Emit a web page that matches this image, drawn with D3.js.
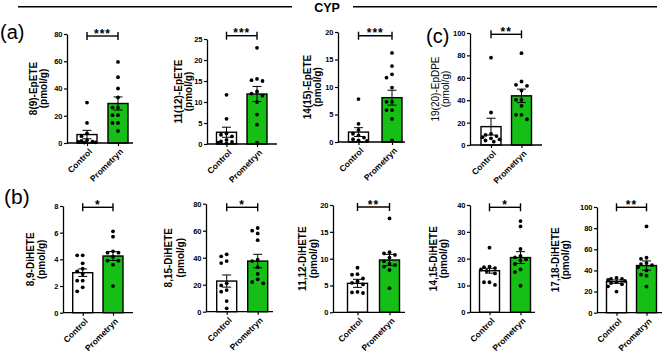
<!DOCTYPE html>
<html>
<head>
<meta charset="utf-8">
<script src="https://cdn.jsdelivr.net/npm/d3@7"></script>
<style>
  body { margin: 0; background: #fff; }
  svg { display: block; font-family: "Liberation Sans", Arial, sans-serif; }
  .yax .tick text { font-size: 7.5px; font-weight: bold; }
  .xax .tick text { font-size: 8.5px; font-weight: bold; }
</style>
</head>
<body>
<svg id="chart" width="669" height="355"></svg>
<script>
// values
var analytes = ["8(9)-EpETE", "11(12)-EpETE", "14(15)-EpETE", "19(20)-EpDPE",
  "8,9-DiHETE", "8,15-DiHETE", "11,12-DiHETE", "14,15-DiHETE", "17,18-DiHETE"];
var groups = ["Control", "Prometryn"];
var yMax = [80, 25, 20, 100, 8, 80, 20, 40, 100];
var yStep = [20, 5, 5, 20, 2, 20, 5, 10, 20];
var controlMean = [6.2, 2.8, 1.8, 16.4, 3.0, 22.7, 5.4, 15.5, 29.4];
var controlSem = [3.1, 1.2, 0.8, 7.5, 0.28, 4.5, 0.75, 0.9, 1.6];
var prometrynMean = [29, 11.9, 8.06, 43.9, 4.25, 37.5, 9.75, 20.4, 44.6];
var prometrynSem = [4.8, 1.8, 1.35, 6.0, 0.33, 5.0, 1.05, 2.2, 4.4];
var controlPoints = [
  [29.7, 14.7, 7, 5, 2, 1.5, 1, 0.8, 0.5, 0.3],
  [11.7, 6.0, 2.5, 2.2, 1.8, 1.0, 0.6, 0.5, 0.3, 0.2],
  [7.8, 3.3, 2.2, 1.5, 1.2, 0.8, 0.5, 0.3, 0.2],
  [78, 29, 10, 9, 8, 7, 6, 5, 4, 3],
  [4.3, 4.3, 3.7, 3.3, 3.1, 2.9, 2.4, 2.4, 1.9, 1.6],
  [42.5, 41, 37.5, 36, 21, 19.5, 16, 14.8, 7.9, 2.5],
  [8.3, 7.1, 7.0, 6.3, 5.8, 5.5, 5.2, 3.8, 3.7, 3.6],
  [24.1, 17, 16.8, 16.5, 16, 15.4, 14.5, 11.2, 11.2, 10.2],
  [33, 32, 32, 31, 30, 29, 28, 27, 25, 20]
];
var prometrynPoints = [
  [59.5, 48.3, 40, 33.4, 26, 26, 20.4, 20.4, 14.7, 14.7, 8.8],
  [22.9, 15.5, 15.2, 15.0, 12.5, 12.0, 11.5, 10.0, 7.0, 4.6, 0.3],
  [16.2, 13.8, 12.3, 11.7, 9.9, 7.3, 7.3, 5.8, 5.8, 4.2, 0.3],
  [82, 56.7, 53.7, 52.8, 48.6, 40.3, 40.3, 35, 26.9, 26.9, 23],
  [6.1, 5.7, 4.6, 4.5, 4.5, 4.2, 3.9, 3.9, 3.6, 2.0],
  [62, 60, 58, 53, 38.5, 37.5, 33, 28, 24, 22, 21],
  [17.5, 11.2, 11.0, 10.7, 10.2, 9.5, 9.0, 8.8, 8.5, 7.9, 4.5],
  [34, 32, 23.6, 21, 20.5, 19.7, 19.3, 18, 16, 15, 9.9],
  [81.6, 52, 51, 47, 46, 45, 43, 40, 36, 35, 24.7]
];
var stars = ["***", "***", "***", "**", "*", "*", "**", "*", "**"];

// where each little graph sits (axis x, top px, bottom px, bar centres, x-axis end, label offsets)
var layout = [
  {ax: 67, top: 34, bot: 143, c: [87, 118], end: 133, l1: 34, l2: 24, sig: 36},
  {ax: 207, top: 39, bot: 144, c: [226.5, 257], end: 277, l1: 29, l2: 19, sig: 35.7},
  {ax: 338, top: 32, bot: 142, c: [358.5, 392], end: 405, l1: 31, l2: 21, sig: 35.7},
  {ax: 470, top: 33, bot: 145, c: [491, 521.5], end: 542, l1: 35, l2: 25, sig: 34.3, light: true},
  {ax: 63, top: 206, bot: 312.7, c: [82.7, 113], end: 133, l1: 33, l2: 21.5, sig: 207.3},
  {ax: 206, top: 203.7, bot: 311.7, c: [226.7, 257.7], end: 273, l1: 38, l2: 26, sig: 207.3},
  {ax: 333, top: 205, bot: 312.3, c: [357.5, 389.5], end: 405, l1: 31, l2: 20, sig: 207},
  {ax: 470, top: 205, bot: 312.3, c: [489.5, 520.5], end: 535, l1: 37, l2: 27, sig: 207.3},
  {ax: 597, top: 207, bot: 312.7, c: [616.5, 646.5], end: 662, l1: 42, l2: 32, sig: 207.3}
];

var svg = d3.select("#chart");
var green = "#15bf15";
var barW = 20, dotR = 1.9;

// header
svg.append("line").attr("x1", 18).attr("x2", 292).attr("y1", 6.8).attr("y2", 6.8)
  .attr("stroke", "#000").attr("stroke-width", 1.6);
svg.append("line").attr("x1", 353).attr("x2", 657).attr("y1", 6.8).attr("y2", 6.8)
  .attr("stroke", "#000").attr("stroke-width", 1.6);
svg.append("text").attr("x", 327).attr("y", 11.8).attr("text-anchor", "middle")
  .attr("font-size", 12.5).attr("font-weight", "bold").text("CYP");

svg.append("text").attr("x", 0).attr("y", 39).attr("font-size", 20).text("(a)");
svg.append("text").attr("x", 4).attr("y", 204).attr("font-size", 21).text("(b)");
svg.append("text").attr("x", 426).attr("y", 43).attr("font-size", 20).text("(c)");

// spread dots sideways like a scatter-on-bar plot
function swarm(vals, y) {
  var placed = [];
  var cands = [0, -5.5, 5.5, -8.5, 8.5, -2.8, 2.8];
  vals.slice().sort(function (a, b) { return b - a }).forEach(function (v) {
    var py = y(v), best = 0, bestD = -1;
    for (var k = 0; k < cands.length; k++) {
      var dmin = Infinity;
      placed.forEach(function (p) {
        var d = Math.hypot(p.dx - cands[k], p.py - py);
        if (d < dmin) dmin = d;
      });
      if (dmin >= 2 * dotR + 0.8) { best = cands[k]; bestD = dmin; break; }
      if (dmin > bestD) { bestD = dmin; best = cands[k]; }
    }
    placed.push({v: v, py: py, dx: best});
  });
  return placed;
}

analytes.forEach(function (name, i) {
  var L = layout[i];
  var g = svg.append("g");
  var y = d3.scaleLinear().domain([0, yMax[i]]).range([L.bot, L.top]);
  var x = d3.scalePoint().domain(groups).range(L.c).padding(0);

  // y axis
  var yAx = g.append("g").attr("class", "yax").attr("transform", "translate(" + L.ax + ",0)")
    .call(d3.axisLeft(y).tickValues(d3.range(0, yMax[i] + 1e-9, yStep[i]))
      .tickSize(3).tickSizeOuter(0).tickPadding(1.5));
  yAx.select(".domain").attr("stroke-width", 1.3);
  yAx.selectAll(".tick line").attr("stroke-width", 1.2);

  // bars
  var means = [controlMean[i], prometrynMean[i]];
  var sems = [controlSem[i], prometrynSem[i]];
  g.selectAll("rect.bar").data(groups).enter().append("rect")
    .attr("x", function (d) { return x(d) - barW / 2 })
    .attr("y", function (d, j) { return y(means[j]) })
    .attr("width", barW)
    .attr("height", function (d, j) { return y(0) - y(means[j]) })
    .attr("fill", function (d, j) { return j ? green : "#fff" })
    .attr("stroke", "#000").attr("stroke-width", 1.4);

  // dots
  [controlPoints[i], prometrynPoints[i]].forEach(function (pts, j) {
    g.selectAll("circle.g" + j).data(swarm(pts, y)).enter().append("circle")
      .attr("cx", function (d) { return x(groups[j]) + d.dx })
      .attr("cy", function (d) { return d.py })
      .attr("r", dotR).attr("fill", "#000");
  });

  // SEM
  groups.forEach(function (grp, j) {
    var cx = x(grp);
    var hi = y(means[j] + sems[j]), lo = y(Math.max(0, means[j] - sems[j]));
    g.append("line").attr("x1", cx).attr("x2", cx).attr("y1", hi).attr("y2", lo)
      .attr("stroke", "#000").attr("stroke-width", 1);
    [hi, lo].forEach(function (yy) {
      g.append("line").attr("x1", cx - 4.5).attr("x2", cx + 4.5).attr("y1", yy).attr("y2", yy)
        .attr("stroke", "#000").attr("stroke-width", 1);
    });
  });

  // x axis
  g.append("line").attr("x1", L.ax).attr("x2", L.end).attr("y1", L.bot).attr("y2", L.bot)
    .attr("stroke", "#000").attr("stroke-width", 1.3);
  var xAx = g.append("g").attr("class", "xax").attr("transform", "translate(0," + L.bot + ")")
    .call(d3.axisBottom(x).tickSize(3).tickSizeOuter(0));
  xAx.select(".domain").remove();
  xAx.selectAll(".tick line").attr("stroke-width", 1.2);
  xAx.selectAll(".tick text")
    .attr("text-anchor", "end")
    .attr("transform", "translate(3,7) rotate(-45)")
    .attr("x", 0).attr("y", 0).attr("dy", "0.35em");

  // y label
  var mid = (L.top + L.bot) / 2;
  [[name, L.l1], ["(pmol/g)", L.l2]].forEach(function (t) {
    g.append("text")
      .attr("transform", "translate(" + (L.ax - t[1] + 3.5) + "," + mid + ") rotate(-90)")
      .attr("text-anchor", "middle").attr("font-size", 10)
      .attr("font-weight", L.light ? "normal" : "bold")
      .text(t[0]);
  });

  // significance bracket
  g.append("line").attr("x1", L.c[0]).attr("x2", L.c[1]).attr("y1", L.sig).attr("y2", L.sig)
    .attr("stroke", "#000").attr("stroke-width", 1.4);
  L.c.forEach(function (cx) {
    g.append("line").attr("x1", cx).attr("x2", cx).attr("y1", L.sig - 4).attr("y2", L.sig + 4)
      .attr("stroke", "#000").attr("stroke-width", 1.4);
  });
  g.append("text").attr("x", (L.c[0] + L.c[1]) / 2).attr("y", L.sig + 1.5)
    .attr("text-anchor", "middle").attr("font-size", 12).attr("font-weight", "bold")
    .attr("letter-spacing", 1).text(stars[i]);
});
</script>
</body>
</html>
